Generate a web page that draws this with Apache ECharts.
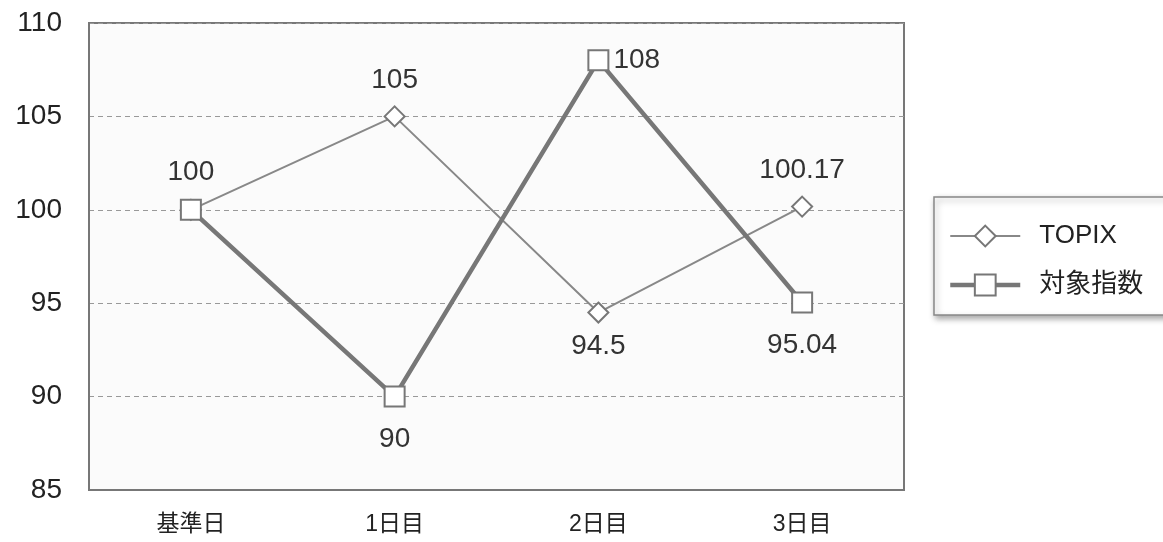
<!DOCTYPE html>
<html>
<head>
<meta charset="utf-8">
<script src="https://cdn.jsdelivr.net/npm/echarts@6/dist/echarts.min.js"></script>
<style>
html,body{margin:0;padding:0;background:#fff;}
#c{width:1163px;height:542px;}
</style>
</head>
<body>
<div id="c"></div>
<script>
const categories = ['基準日', '1日目', '2日目', '3日目'];
const topixValues = [100, 105, 94.5, 100.17];
const indexValues = [100, 90, 108, 95.04];
const seriesNames = ['TOPIX', '対象指数'];
const topixLabelPos = [null, 'top', 'bottom', 'top'];
const indexLabelPos = ['top', 'bottom', 'right', 'bottom'];

const FONT = '"Liberation Sans", Arial, "Noto Sans CJK JP", sans-serif';
const chart = echarts.init(document.getElementById('c'));

function buildData(vals, pos, topDist, bottomDist) {
  return vals.map((v, i) => {
    if (!pos[i]) return { value: v, label: { show: false } };
    const d = pos[i] === 'right' ? 4 : (pos[i] === 'bottom' ? bottomDist : topDist);
    return { value: v, label: { show: true, position: pos[i], distance: d } };
  });
}

chart.setOption({
  backgroundColor: '#ffffff',
  animation: false,
  grid: {
    left: 89, right: 259, top: 23, bottom: 52,
    show: true, backgroundColor: '#fbfbfb', borderColor: '#777', borderWidth: 2
  },
  legend: {
    data: [
      { name: seriesNames[0], lineStyle: { width: 2 } },
      { name: seriesNames[1], lineStyle: { width: 4.5 } }
    ],
    orient: 'vertical',
    left: 934, top: 197,
    padding: [26, 60, 17, 14],
    itemWidth: 70, itemHeight: 26, itemGap: 23,
    backgroundColor: '#ffffff',
    borderColor: '#888', borderWidth: 1.5,
    shadowColor: 'rgba(0,0,0,0.35)', shadowBlur: 6, shadowOffsetX: 2, shadowOffsetY: 3,
    textStyle: { fontSize: 26, color: '#222', fontFamily: FONT, padding: [0, 0, 0, 14] }
  },
  xAxis: {
    type: 'category',
    data: categories,
    boundaryGap: true,
    axisLine: { lineStyle: { color: '#777', width: 2 } },
    axisTick: { inside: true, length: 8, lineStyle: { color: '#999', width: 1 } },
    axisLabel: { fontSize: 23, color: '#222', margin: 23, fontFamily: FONT }
  },
  yAxis: {
    type: 'value',
    min: 85, max: 110, interval: 5,
    axisLine: { show: true, lineStyle: { color: '#777', width: 2 } },
    axisTick: { show: false },
    axisLabel: { fontSize: 28, color: '#222', margin: 27, fontFamily: FONT },
    splitLine: { show: true, lineStyle: { color: '#999', type: [5, 4], width: 1 } }
  },
  series: [
    {
      name: seriesNames[0],
      type: 'line',
      data: buildData(topixValues, topixLabelPos, 11, 9),
      symbol: 'diamond', symbolSize: 20,
      lineStyle: { color: '#888', width: 2 },
      itemStyle: { color: '#fff', borderColor: '#777', borderWidth: 2 },
      label: { fontSize: 28, color: '#333', fontFamily: FONT },
      z: 2
    },
    {
      name: seriesNames[1],
      type: 'line',
      data: buildData(indexValues, indexLabelPos, 13, 18),
      symbol: 'rect', symbolSize: 20,
      lineStyle: { color: '#777', width: 4.5 },
      itemStyle: { color: '#fff', borderColor: '#777', borderWidth: 2 },
      label: { fontSize: 28, color: '#333', fontFamily: FONT },
      z: 3
    }
  ]
});
</script>
</body>
</html>
